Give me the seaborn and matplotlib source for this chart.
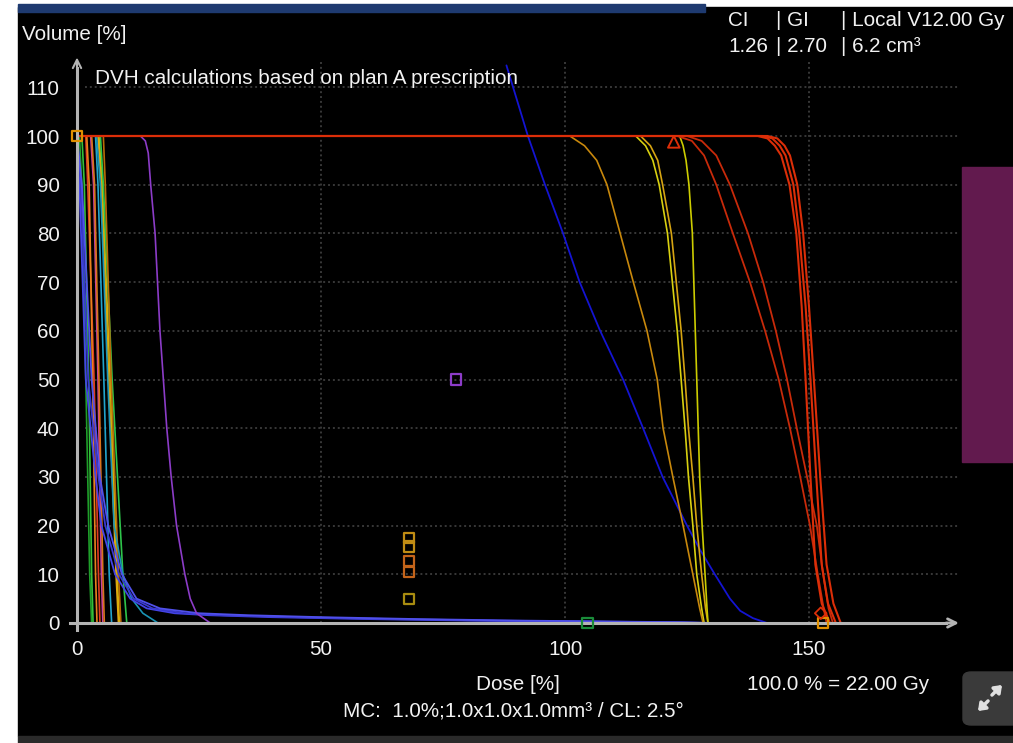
import matplotlib
matplotlib.use("Agg")
import matplotlib.pyplot as plt
import seaborn as sns
from matplotlib.patches import Rectangle, FancyBboxPatch

# ---- DVH data (dose in % of prescription, volume in %) ----
# red target curves, steep group
ptv_steep_vol = [100, 100, 99.5, 98, 96, 90, 80, 65, 50, 30, 12, 4, 0]
ptv_steep_dose = [
    [0, 139.5, 141.5, 143.0, 144.3, 146.0, 147.4, 148.5, 149.3, 150.3, 151.3, 152.6, 154.3],
    [0, 140.5, 142.5, 144.0, 145.2, 146.8, 148.0, 149.3, 150.3, 151.5, 152.6, 153.9, 155.5],
    [0, 141.5, 143.5, 145.0, 146.1, 147.6, 148.8, 150.0, 151.0, 152.3, 153.6, 155.0, 156.5],
]
# red target curves, gradual group
ptv_grad_vol = [100, 100, 99, 96, 90, 80, 70, 60, 50, 40, 30, 20, 10, 3, 0]
ptv_grad_dose = [
    [0, 123.0, 126.0, 128.5, 131.0, 134.4, 137.9, 141.0, 143.8, 146.1, 148.2, 150.2, 151.8, 153.0, 153.6],
    [0, 125.0, 128.0, 131.0, 133.8, 137.5, 140.6, 143.2, 145.5, 147.5, 149.6, 151.6, 152.9, 154.0, 154.9],
]
# yellow / orange curves
gtv_vol = [100, 100, 98, 95, 90, 80, 70, 60, 50, 40, 30, 20, 10, 3, 0]
gtv_dose = [
    [0, 114.5, 116.5, 118.0, 119.3, 121.0, 122.0, 123.0, 123.8, 124.6, 125.3, 126.2, 127.0, 128.0, 128.5],
    [0, 115.5, 117.5, 119.0, 120.0, 121.8, 122.8, 123.8, 124.6, 125.3, 126.2, 127.0, 128.0, 128.8, 129.3],
    [0, 123.5, 124.2, 124.8, 125.4, 126.1, 126.4, 126.7, 127.0, 127.3, 127.6, 128.1, 128.7, 129.1, 129.3],
    [0, 101.0, 104.0, 106.5, 108.6, 111.3, 114.0, 116.8, 118.9, 120.1, 122.1, 124.2, 126.2, 127.6, 128.3],
]
# long blue ring curve
ring_dose = [88.0, 92.4, 95.9, 99.6, 103.0, 107.2, 111.9, 116.0, 120.0, 125.0, 127.7, 130.7, 133.8, 135.9, 138.5, 141.4]
ring_vol = [114.5, 100, 90, 80, 70, 60, 50, 40, 30, 20, 15, 10, 5, 2.5, 1, 0]
# purple curve
purple_dose = [0, 13.0, 14.0, 14.6, 15.1, 16.0, 16.5, 17.0, 17.7, 18.4, 19.3, 20.4, 22.1, 23.2, 24.5, 27.3]
purple_vol = [100, 100, 99, 96.5, 90, 80, 70, 60, 50, 40, 30, 20, 10, 5, 2, 0]
# blue curves with long low tail
tail_vol = [100, 90, 50, 30, 20, 10, 5, 3, 2, 1.6, 1.2, 0.8, 0.5, 0.3, 0.15, 0]
tail_dose = [
    [0, 0.5, 1.8, 3.8, 5.0, 7.8, 10.9, 14.3, 20.0, 27.0, 40.0, 60.0, 80.0, 100.0, 120.0, 129.0],
    [0, 0.8, 2.3, 4.4, 5.8, 8.6, 11.6, 15.5, 22.0, 30.0, 45.0, 65.0, 85.0, 105.0, 122.0, 130.0],
    [0, 1.0, 3.0, 4.7, 6.4, 9.2, 12.2, 17.0, 25.0, 35.0, 50.0, 70.0, 90.0, 110.0, 124.0, 130.5],
]
# teal curve
teal_dose = [0, 4.0, 4.8, 6.3, 7.6, 9.4, 11.2, 13.5, 16.6]
teal_vol = [100, 100, 90, 50, 20, 10, 5, 2, 0]
# low dose organs at risk
oar_vol = [100, 100, 90, 50, 10, 0]
oar_dose = [
    [0, 0.5, 1.0, 1.8, 2.6, 3.0],
    [0, 1.0, 1.5, 2.4, 3.0, 3.3],
    [0, 1.8, 2.2, 3.5, 4.4, 4.7],
    [0, 2.0, 2.5, 3.2, 3.8, 4.1],
    [0, 2.8, 3.4, 4.3, 5.0, 5.3],
    [0, 3.0, 3.6, 4.5, 5.3, 5.6],
    [0, 3.8, 4.3, 5.5, 6.6, 7.1],
    [0, 4.3, 5.0, 6.5, 8.0, 8.5],
    [0, 4.5, 5.2, 6.8, 8.2, 8.7],
    [0, 4.8, 5.4, 7.2, 9.4, 10.2],
    [0, 5.4, 5.8, 7.0, 8.5, 9.0],
]
# constraint markers
sq_dose = [0, 77.7, 68.0, 68.0, 68.0, 68.0, 68.0, 104.6, 152.9]
sq_vol = [100, 50, 17.4, 15.7, 12.8, 10.5, 4.9, 0, 0]
tri_dose = [122.3]
tri_vol = [98.8]
dia_dose = [152.4]
dia_vol = [2.0]

x_ticks = [0, 50, 100, 150]
y_ticks = list(range(0, 111, 10))

# ---- colours ----
oar_colors = ["#1f9f2a", "#34c03a", "#e03a22", "#e8821c", "#c8449c", "#d8741a",
              "#22a4cc", "#e8a412", "#d4b408", "#2ec44a", "#b86c08"]
tail_colors = ["#4444e6", "#3838d0", "#5050ea"]
gtv_colors = ["#d8d010", "#d6a412", "#cccc00", "#c8880c"]
sq_colors = ["#e09000", "#8c3cc8", "#c08c14", "#c08c14", "#c4641a", "#c4641a",
             "#a88c10", "#1a8c3a", "#e09000"]
red = "#dc2e08"
txt = "#f2f2f2"
axc = "#b4b4b4"

sns.set_theme(style="dark")
plt.rcParams["font.family"] = ["Liberation Sans", "DejaVu Sans"]

W, H = 1013, 743
fx = lambda p: p / W
fy = lambda p: 1 - p / H

fig = plt.figure(figsize=(W / 100, H / 100), dpi=100, facecolor="white")
# dark panel of the screenshot
fig.patches.append(Rectangle((fx(18), fy(736)), fx(1013) - fx(18), fy(7) - fy(736),
                             transform=fig.transFigure, color="black", zorder=0))
fig.patches.append(Rectangle((fx(18), fy(12)), fx(705) - fx(18), fy(4) - fy(12),
                             transform=fig.transFigure, color="#1e3a70", zorder=0))
fig.patches.append(Rectangle((fx(18), fy(743)), fx(1013) - fx(18), fy(736) - fy(743),
                             transform=fig.transFigure, color="#2a2a2a", zorder=0))
fig.patches.append(Rectangle((fx(962), fy(462)), fx(1013) - fx(962), fy(167) - fy(462),
                             transform=fig.transFigure, color="#621a4e", zorder=1))
fig.patches.append(FancyBboxPatch((fx(963), fy(725)), fx(1030) - fx(963), fy(672) - fy(725),
                                  boxstyle="round,pad=0,rounding_size=0.008",
                                  transform=fig.transFigure, color="#3a3a3a", zorder=1))

# axes placed so that dose 0 sits at x=77 px and volume 0 at y=623 px
left, right, top, bottom = 61, 967, 51, 641
ax = fig.add_axes([fx(left), fy(bottom), fx(right) - fx(left), fy(top) - fy(bottom)])
ax.set_zorder(3)
ax.set_facecolor("none")
ax.patch.set_alpha(0)
ax.set_xlim((left - 77) / 4.88, (right - 77) / 4.88)
ax.set_ylim((623 - bottom) / 4.87, (623 - top) / 4.87)

# dotted grid
gc = "#383838"
ax.hlines(y_ticks[1:], 1.7, 180.5, colors=gc, linestyles=(0, (1, 1.5)), lw=1.4, zorder=1)
ax.vlines(x_ticks[1:], 0, 115.2, colors=gc, linestyles=(0, (1, 1.5)), lw=1.4, zorder=1)

lw = 1.2
for d, c in zip(oar_dose, oar_colors):
    sns.lineplot(x=d, y=oar_vol, color=c, lw=lw, sort=False, estimator=None, ax=ax)
sns.lineplot(x=teal_dose, y=teal_vol, color="#1a94b4", lw=lw, sort=False, estimator=None, ax=ax)
for d, c in zip(tail_dose, tail_colors):
    sns.lineplot(x=d, y=tail_vol, color=c, lw=1.3, sort=False, estimator=None, ax=ax)
sns.lineplot(x=purple_dose, y=purple_vol, color="#8c3cc8", lw=lw, sort=False, estimator=None, ax=ax)
sns.lineplot(x=ring_dose, y=ring_vol, color="#1414d2", lw=1.3, sort=False, estimator=None, ax=ax)
for d, c in zip(gtv_dose, gtv_colors):
    sns.lineplot(x=d, y=gtv_vol, color=c, lw=lw, sort=False, estimator=None, ax=ax)
for d in ptv_grad_dose:
    sns.lineplot(x=d, y=ptv_grad_vol, color="#c82a0a", lw=1.3, sort=False, estimator=None, ax=ax)
for d in ptv_steep_dose:
    sns.lineplot(x=d, y=ptv_steep_vol, color=red, lw=1.5, sort=False, estimator=None, ax=ax)

# markers
sns.scatterplot(x=sq_dose, y=sq_vol, hue=list(range(len(sq_dose))), palette=sq_colors,
                marker="s", s=55, legend=False, ax=ax, zorder=5)
coll = ax.collections[-1]
coll.set_edgecolors(sq_colors)
coll.set_facecolors("none")
coll.set_linewidths(1.6)
coll.set_clip_on(False)
sns.scatterplot(x=tri_dose, y=tri_vol, marker="^", s=70, facecolor="none", edgecolor=red,
                linewidth=1.4, ax=ax, zorder=5)
sns.scatterplot(x=dia_dose, y=dia_vol, marker="D", s=35, facecolor="none", edgecolor=red,
                linewidth=1.3, ax=ax, zorder=5)

# axes lines with arrows
for s in ["top", "right"]:
    ax.spines[s].set_visible(False)
ax.spines["left"].set_position(("data", 0))
ax.spines["bottom"].set_position(("data", 0))
ax.spines["left"].set_bounds(-1.5, 114)
ax.spines["bottom"].set_bounds(-1.5, 178)
for s in ["left", "bottom"]:
    ax.spines[s].set_color(axc)
    ax.spines[s].set_linewidth(2.2)
    ax.spines[s].set_zorder(3)
ax.annotate("", xy=(0, 116.7), xytext=(0, 113.5),
            arrowprops=dict(arrowstyle="->,head_length=0.5,head_width=0.25", color=axc, lw=1.5),
            annotation_clip=False)
ax.annotate("", xy=(181.3, 0), xytext=(177.5, 0),
            arrowprops=dict(arrowstyle="->,head_length=0.5,head_width=0.25", color=axc, lw=2),
            annotation_clip=False)

fs = 14.9
ax.set_xticks(x_ticks)
ax.set_yticks(y_ticks)
ax.tick_params(axis="both", direction="inout", length=12, width=2, color=axc,
               labelcolor=txt, labelsize=fs, pad=6.5)
ax.grid(False)
ax.set_xlabel("")
ax.set_ylabel("")

# texts
fig.text(fx(22), fy(35), "Volume [%]", color=txt, fontsize=fs, va="center", ha="left")
fig.text(fx(95), fy(78), "DVH calculations based on plan A prescription", color=txt, fontsize=fs,
         va="center", ha="left", zorder=4)
fig.text(fx(518), fy(684), "Dose [%]", color=txt, fontsize=fs, va="center", ha="center")
fig.text(fx(838), fy(684), "100.0 % = 22.00 Gy", color=txt, fontsize=fs, va="center", ha="center")
fig.text(fx(513), fy(711), "MC:  1.0%;1.0x1.0x1.0mm³ / CL: 2.5°", color=txt, fontsize=fs,
         va="center", ha="center")
for row, y in [(["CI", "| GI", "| Local V12.00 Gy"], 20), (["1.26", "| 2.70", "| 6.2 cm³"], 46)]:
    for t, x in zip(row, [728, 776, 841]):
        fig.text(fx(x), fy(y), t, color=txt, fontsize=fs, va="center", ha="left")

# expand icon
for (x0, y0, x1, y1) in [(990, 697, 1004, 683), (990, 699, 976, 713)]:
    fig.add_artist(matplotlib.patches.FancyArrowPatch(
        (fx(x0), fy(y0)), (fx(x1), fy(y1)), transform=fig.transFigure,
        arrowstyle="-|>,head_length=4,head_width=3", color="#e0e0e0", lw=2.5, zorder=4))

fig.savefig("out.png", dpi=100, facecolor=fig.get_facecolor())
